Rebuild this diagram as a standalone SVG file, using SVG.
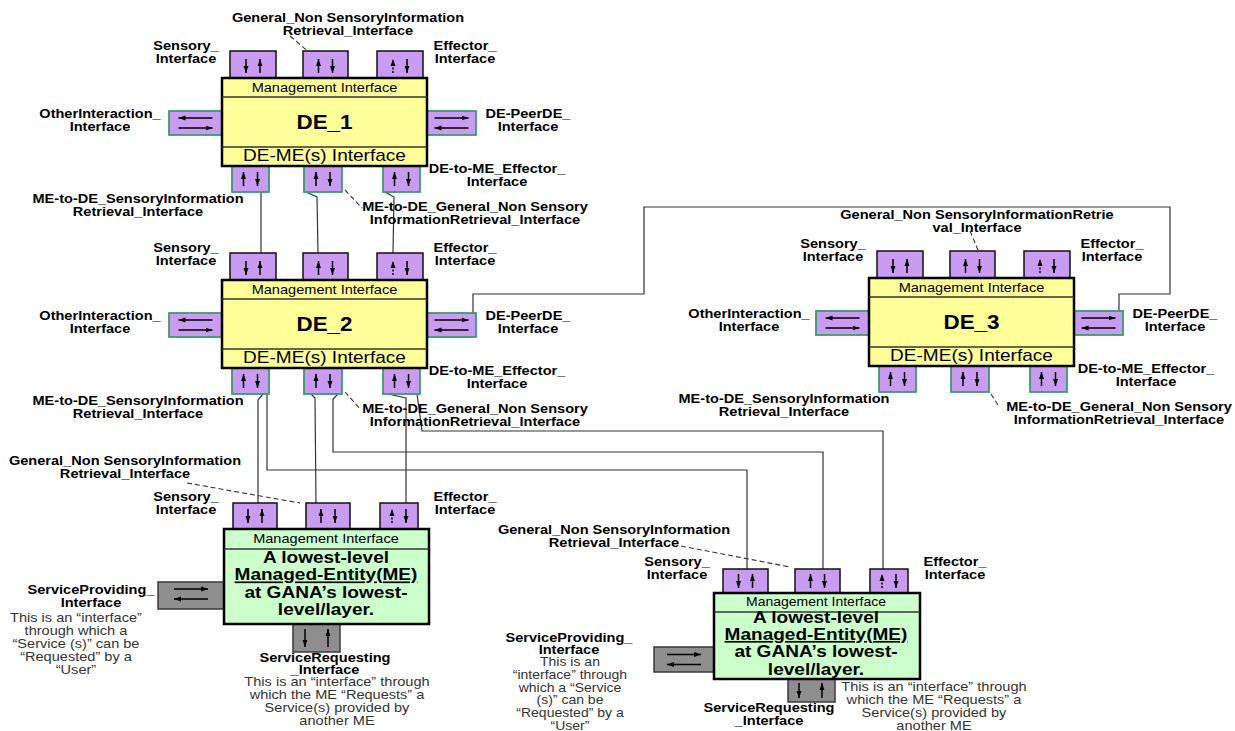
<svg xmlns="http://www.w3.org/2000/svg" xmlns:xlink="http://www.w3.org/1999/xlink" width="1235" height="731" viewBox="0 0 1235 731">
<style>
text{font-family:"Liberation Sans",Arial,sans-serif;text-anchor:middle;fill:#000;transform-box:fill-box;transform-origin:center;transform:scaleX(1.12)}
.l{font-size:13px;font-weight:bold}
.mi{font-size:13px}
.dn{font-size:20px;font-weight:bold}
.dm{font-size:17px}
.me{font-size:17px;font-weight:bold}
.d{font-size:13px;fill:#333}
.pt{fill:#C99CF2;stroke:#111;stroke-width:1.5}
.pg{fill:#C99CF2;stroke:#3A9C6C;stroke-width:1.8}
.gp{fill:#8E8E8E;stroke:#3A3A3A;stroke-width:1.5}
.deb{fill:#FFFF99;stroke:#000;stroke-width:2.5}
.meb{fill:#CCFFCC;stroke:#000;stroke-width:2.5}
.band{stroke:#333;stroke-width:1.5}
.ar{stroke:#000;stroke-width:1.5;fill:none}
.cn{fill:none;stroke:#333;stroke-width:1.2}
.ld{fill:none;stroke:#333;stroke-width:1.1;stroke-dasharray:5 3}
</style>
<defs>
<marker id="ah" viewBox="0 0 10 10" refX="10" refY="5" markerWidth="7" markerHeight="7" markerUnits="userSpaceOnUse" orient="auto"><path d="M0,1.5 L10,5 L0,8.5 z" fill="#000"/></marker>
<g id="vDU" class="ar"><line x1="-7" y1="-7" x2="-7" y2="7" marker-end="url(#ah)"/><line x1="7" y1="7" x2="7" y2="-7" marker-end="url(#ah)"/></g>
<g id="vUD" class="ar"><line x1="-7" y1="7" x2="-7" y2="-7" marker-end="url(#ah)"/><line x1="7" y1="-7" x2="7" y2="7" marker-end="url(#ah)"/></g>
<g id="vEF" class="ar"><line x1="-7" y1="7" x2="-7" y2="-7" stroke-dasharray="2 1.5" marker-end="url(#ah)"/><line x1="7" y1="-7" x2="7" y2="7" marker-end="url(#ah)"/></g>
<g id="hLR" class="ar"><line x1="17" y1="-5" x2="-17" y2="-5" marker-end="url(#ah)"/><line x1="-17" y1="5" x2="17" y2="5" marker-end="url(#ah)"/></g>
<g id="hRL" class="ar"><line x1="-17" y1="-5" x2="17" y2="-5" marker-end="url(#ah)"/><line x1="17" y1="5" x2="-17" y2="5" marker-end="url(#ah)"/></g>
<g id="deBody">
<rect class="pt" x="230" y="51" width="46" height="27"/>
<rect class="pt" x="303" y="51" width="45" height="27"/>
<rect class="pt" x="377" y="51" width="46" height="27"/>
<rect class="pg" x="169" y="111" width="53" height="24"/>
<rect class="pg" x="427" y="111" width="49" height="24"/>
<rect class="pg" x="232" y="166" width="37" height="26"/>
<rect class="pg" x="304" y="166" width="38" height="26"/>
<rect class="pg" x="383" y="166" width="37" height="26"/>
<rect class="deb" x="222" y="78" width="205" height="88"/>
<line class="band" x1="222" y1="97" x2="427" y2="97"/>
<line class="band" x1="222" y1="147" x2="427" y2="147"/>
<use xlink:href="#vDU" x="253" y="66"/>
<use xlink:href="#vUD" x="325.5" y="66"/>
<use xlink:href="#vEF" x="400" y="66"/>
<use xlink:href="#hLR" x="195.5" y="123"/>
<use xlink:href="#hRL" x="451.5" y="123"/>
<use xlink:href="#vUD" x="250.5" y="179"/>
<use xlink:href="#vUD" x="323" y="179"/>
<use xlink:href="#vUD" x="401.5" y="179"/>
</g>
</defs>
<rect width="1235" height="731" fill="#fff"/>

<g id="connectors">
<polyline class="cn" points="261,192 261,253"/>
<polyline class="cn" points="306,192 317,197 318,253"/>
<polyline class="cn" points="385,192 394,197 393,253"/>
<polyline class="cn" points="263,394 258,400 258,503"/>
<polyline class="cn" points="267,394 267,470 747,470 747,569"/>
<polyline class="cn" points="311,394 315,398 316,503"/>
<polyline class="cn" points="338,394 333,399 333,452 823,452 823,569"/>
<polyline class="cn" points="388,394 406,398 406,503"/>
<polyline class="cn" points="417,394 422,431 883,431 883,569"/>
<polyline class="cn" points="473,313 473,294 644,294 644,207 1170,207 1170,294 1119,294 1119,311"/>
<line class="ld" x1="290" y1="36" x2="318" y2="60"/>
<line class="ld" x1="345" y1="190" x2="362" y2="208"/>
<line class="ld" x1="345" y1="392" x2="361" y2="410"/>
<line class="ld" x1="970" y1="231" x2="978" y2="250"/>
<line class="ld" x1="991" y1="394" x2="998" y2="405"/>
<line class="ld" x1="187" y1="483" x2="300" y2="503"/>
<line class="ld" x1="681" y1="546" x2="790" y2="567"/>
</g>

<g id="DE_1">
<use xlink:href="#deBody"/>
<text class="mi" x="324.5" y="92">Management Interface</text>
<text class="dn" x="324.5" y="129">DE_1</text>
<text class="dm" x="324.5" y="161">DE-ME(s) Interface</text>
<text class="l" x="348" y="22">General_Non SensoryInformation<tspan x="348" dy="13">Retrieval_Interface</tspan></text>
<text class="l" x="186" y="50">Sensory_<tspan x="186" dy="13">Interface</tspan></text>
<text class="l" x="465" y="50">Effector_<tspan x="465" dy="13">Interface</tspan></text>
<text class="l" x="100" y="118">OtherInteraction_<tspan x="100" dy="13">Interface</tspan></text>
<text class="l" x="528" y="118">DE-PeerDE_<tspan x="528" dy="13">Interface</tspan></text>
<text class="l" x="497" y="173">DE-to-ME_Effector_<tspan x="497" dy="13">Interface</tspan></text>
<text class="l" x="138" y="203">ME-to-DE_SensoryInformation<tspan x="138" dy="13">Retrieval_Interface</tspan></text>
<text class="l" x="475" y="211">ME-to-DE_General_Non Sensory<tspan x="475" dy="13">InformationRetrieval_Interface</tspan></text>
</g>

<g id="DE_2" transform="translate(0,202)">
<use xlink:href="#deBody"/>
<text class="mi" x="324.5" y="92">Management Interface</text>
<text class="dn" x="324.5" y="129">DE_2</text>
<text class="dm" x="324.5" y="161">DE-ME(s) Interface</text>
<text class="l" x="186" y="50">Sensory_<tspan x="186" dy="13">Interface</tspan></text>
<text class="l" x="465" y="50">Effector_<tspan x="465" dy="13">Interface</tspan></text>
<text class="l" x="100" y="118">OtherInteraction_<tspan x="100" dy="13">Interface</tspan></text>
<text class="l" x="528" y="118">DE-PeerDE_<tspan x="528" dy="13">Interface</tspan></text>
<text class="l" x="497" y="173">DE-to-ME_Effector_<tspan x="497" dy="13">Interface</tspan></text>
<text class="l" x="138" y="203">ME-to-DE_SensoryInformation<tspan x="138" dy="13">Retrieval_Interface</tspan></text>
<text class="l" x="475" y="211">ME-to-DE_General_Non Sensory<tspan x="475" dy="13">InformationRetrieval_Interface</tspan></text>
</g>

<g id="DE_3" transform="translate(647,200)">
<use xlink:href="#deBody"/>
<text class="mi" x="324.5" y="92">Management Interface</text>
<text class="dn" x="324.5" y="129">DE_3</text>
<text class="dm" x="324.5" y="161">DE-ME(s) Interface</text>
<text class="l" x="330" y="19">General_Non SensoryInformationRetrie<tspan x="330" dy="13">val_Interface</tspan></text>
<text class="l" x="186" y="48">Sensory_<tspan x="186" dy="13">Interface</tspan></text>
<text class="l" x="465" y="48">Effector_<tspan x="465" dy="13">Interface</tspan></text>
<text class="l" x="102" y="118">OtherInteraction_<tspan x="102" dy="13">Interface</tspan></text>
<text class="l" x="528" y="118">DE-PeerDE_<tspan x="528" dy="13">Interface</tspan></text>
<text class="l" x="499" y="173">DE-to-ME_Effector_<tspan x="499" dy="13">Interface</tspan></text>
<text class="l" x="137" y="203">ME-to-DE_SensoryInformation<tspan x="137" dy="13">Retrieval_Interface</tspan></text>
<text class="l" x="472" y="211">ME-to-DE_General_Non Sensory<tspan x="472" dy="13">InformationRetrieval_Interface</tspan></text>
</g>

<g id="ME_1">
<rect class="pt" x="233" y="503" width="44" height="26"/>
<rect class="pt" x="306" y="503" width="44" height="26"/>
<rect class="pt" x="380" y="503" width="38" height="26"/>
<rect class="gp" x="158" y="582" width="66" height="27"/>
<rect class="gp" x="293" y="622" width="47" height="30"/>
<rect class="meb" x="224" y="529" width="205" height="95"/>
<line class="band" x1="224" y1="549" x2="429" y2="549"/>
<use xlink:href="#vDU" x="255" y="516"/>
<use xlink:href="#vUD" x="328" y="516"/>
<use xlink:href="#vEF" x="399" y="516"/>
<use xlink:href="#hRL" x="191" y="594"/>
<g class="ar"><line x1="305" y1="629" x2="305" y2="647" marker-end="url(#ah)"/><line x1="328" y1="647" x2="328" y2="629" marker-end="url(#ah)"/></g>
<text class="mi" x="326" y="543">Management Interface</text>
<text class="me" x="326" y="563">A lowest-level</text>
<text class="me" x="326" y="580.5" text-decoration="underline">Managed-Entity(ME)</text>
<text class="me" x="326" y="598">at GANA’s lowest-</text>
<text class="me" x="326" y="615.5">level/layer.</text>
<text class="l" x="125" y="465">General_Non SensoryInformation<tspan x="125" dy="13">Retrieval_Interface</tspan></text>
<text class="l" x="186" y="501">Sensory_<tspan x="186" dy="13">Interface</tspan></text>
<text class="l" x="465" y="501">Effector_<tspan x="465" dy="13">Interface</tspan></text>
<text class="l" x="91" y="594">ServiceProviding_<tspan x="91" dy="13">Interface</tspan></text>
<text class="d" x="76" y="622">This is an “interface”<tspan x="76" dy="13">through which a</tspan><tspan x="76" dy="13">“Service (s)” can be</tspan><tspan x="76" dy="13">“Requested” by a</tspan><tspan x="76" dy="13">“User”</tspan></text>
<text class="l" x="325" y="662">ServiceRequesting<tspan x="325" dy="12">_Interface</tspan></text>
<text class="d" x="337" y="686">This is an “interface” through<tspan x="337" dy="13">which the ME “Requests” a</tspan><tspan x="337" dy="13">Service(s) provided by</tspan><tspan x="337" dy="13">another ME</tspan></text>
</g>

<g id="ME_2">
<rect class="pt" x="723" y="569" width="45" height="24"/>
<rect class="pt" x="795" y="569" width="45" height="24"/>
<rect class="pt" x="870" y="569" width="38" height="24"/>
<rect class="gp" x="654" y="647" width="60" height="25"/>
<rect class="gp" x="788" y="677" width="47" height="25"/>
<rect class="meb" x="714" y="593" width="206" height="86"/>
<line class="band" x1="714" y1="612" x2="920" y2="612"/>
<use xlink:href="#vDU" x="745.5" y="581"/>
<use xlink:href="#vUD" x="817.5" y="581"/>
<use xlink:href="#vEF" x="889" y="581"/>
<use xlink:href="#hRL" x="684" y="659.5"/>
<g class="ar"><line x1="799" y1="683" x2="799" y2="698" marker-end="url(#ah)"/><line x1="822" y1="698" x2="822" y2="683" marker-end="url(#ah)"/></g>
<text class="mi" x="816" y="606" style="font-size:12.5px">Management Interface</text>
<text class="me" x="816" y="623">A lowest-level</text>
<text class="me" x="816" y="640" text-decoration="underline">Managed-Entity(ME)</text>
<text class="me" x="816" y="657.5">at GANA’s lowest-</text>
<text class="me" x="816" y="675">level/layer.</text>
<text class="l" x="614" y="534">General_Non SensoryInformation<tspan x="614" dy="13">Retrieval_Interface</tspan></text>
<text class="l" x="677" y="566">Sensory_<tspan x="677" dy="13">Interface</tspan></text>
<text class="l" x="955" y="566">Effector_<tspan x="955" dy="13">Interface</tspan></text>
<text class="l" x="569" y="642">ServiceProviding_<tspan x="569" dy="12">Interface</tspan></text>
<text class="d" x="570" y="666" style="font-size:12.5px">This is an<tspan x="570" dy="12.8">“interface” through</tspan><tspan x="570" dy="12.8">which a “Service</tspan><tspan x="570" dy="12.8">(s)” can be</tspan><tspan x="570" dy="12.8">“Requested” by a</tspan><tspan x="570" dy="12.8">“User”</tspan></text>
<text class="l" x="769" y="712">ServiceRequesting<tspan x="769" dy="13">_Interface</tspan></text>
<text class="d" x="934" y="691">This is an “interface” through<tspan x="934" dy="13">which the ME “Requests” a</tspan><tspan x="934" dy="13">Service(s) provided by</tspan><tspan x="934" dy="13">another ME</tspan></text>
</g>
</svg>
